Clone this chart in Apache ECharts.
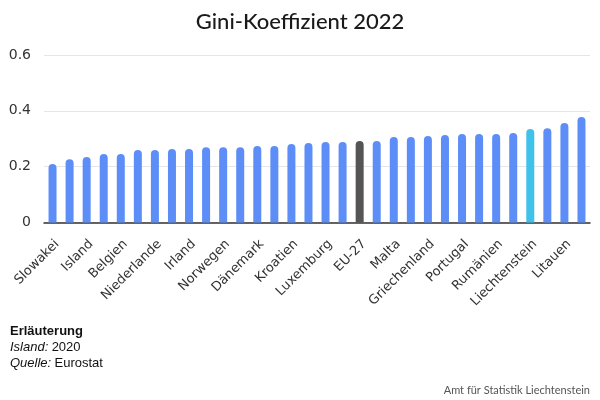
<!DOCTYPE html>
<html>
<head>
<meta charset="utf-8">
<script src="https://cdn.jsdelivr.net/npm/echarts@6/dist/echarts.min.js"></script>
<style>
html,body{margin:0;padding:0;background:#fff;}
#chart{width:600px;height:400px;}
</style>
</head>
<body>
<div id="chart"></div>
<script>
var categories = ["Slowakei","Slowenien","Island","Tschechien","Belgien","Finnland","Niederlande","Polen","Irland","Österreich","Norwegen","Schweden","Dänemark","Ungarn","Kroatien","Deutschland","Luxemburg","Zypern","EU-27","Frankreich","Malta","Estland","Griechenland","Schweiz","Portugal","Spanien","Rumänien","Italien","Liechtenstein","Lettland","Litauen","Bulgarien"];
var giniValues = [0.210,0.227,0.235,0.245,0.245,0.260,0.260,0.263,0.263,0.270,0.270,0.270,0.274,0.274,0.281,0.285,0.288,0.288,0.292,0.292,0.306,0.306,0.310,0.313,0.317,0.317,0.317,0.321,0.335,0.338,0.356,0.378];
var yTicks = [0, 0.2, 0.4, 0.6];
var highlightColors = {"EU-27": "#555555", "Liechtenstein": "#3fc1eb"};
var baseColor = "#5d8ef8";

var chart = echarts.init(document.getElementById('chart'), null, {renderer: 'canvas'});
var data = categories.map(function (c, i) {
  return {value: giniValues[i], itemStyle: {color: highlightColors[c] || baseColor}};
});
chart.setOption({
  animation: false,
  backgroundColor: '#ffffff',
  title: {
    text: 'Gini-Koeffizient 2022',
    left: 'center',
    top: 6,
    textStyle: {fontFamily: 'Lato', fontSize: 22, fontWeight: 500, color: '#1a1a1a'}
  },
  grid: {left: 44, right: 10, top: 55, bottom: 177.5, containLabel: false},
  xAxis: {
    type: 'category',
    data: categories,
    axisLine: {lineStyle: {color: '#333333', width: 1.5}},
    axisTick: {show: false},
    axisLabel: {
      interval: 1,
      rotate: 45,
      margin: 15,
      verticalAlign: 'top',
      fontFamily: 'DejaVu Sans',
      fontSize: 13,
      color: '#333333'
    }
  },
  yAxis: {
    type: 'value',
    min: yTicks[0],
    max: yTicks[yTicks.length - 1],
    interval: 0.2,
    axisLine: {show: false},
    axisTick: {show: false},
    splitLine: {lineStyle: {color: '#e6e6e6', width: 1}},
    axisLabel: {
      margin: 13,
      fontFamily: 'DejaVu Sans',
      fontSize: 14,
      color: '#333333',
      formatter: function (v) { return String(Math.round(v * 10) / 10); }
    }
  },
  series: [{
    type: 'bar',
    data: data,
    barWidth: 8,
    itemStyle: {borderRadius: [4, 4, 0, 0]}
  }],
  graphic: [
    {
      type: 'text', left: 10, top: 325,
      style: {
        text: '{b|Erläuterung}\n{i|Island:} {n|2020}\n{i|Quelle:} {n|Eurostat}',
        rich: {
          b: {fontFamily: 'Liberation Sans', fontSize: 13, fontWeight: 'bold', fill: '#111', lineHeight: 16},
          i: {fontFamily: 'Liberation Sans', fontSize: 13, fontStyle: 'italic', fill: '#111', lineHeight: 16},
          n: {fontFamily: 'Liberation Sans', fontSize: 13, fill: '#111', lineHeight: 16}
        }
      }
    },
    {
      type: 'text', right: 10, top: 385,
      style: {text: 'Amt für Statistik Liechtenstein', fontFamily: 'Lato', fontSize: 11, fill: '#555555'}
    }
  ]
});
</script>
</body>
</html>
